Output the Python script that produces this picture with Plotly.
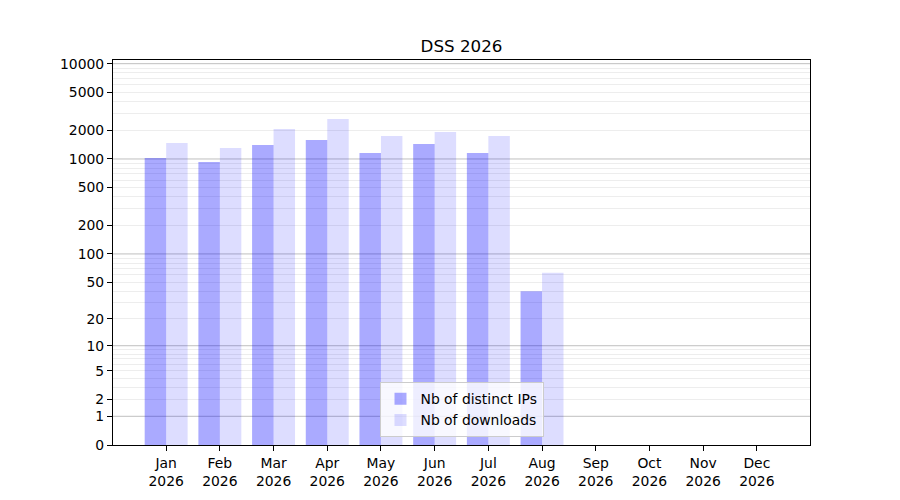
import numpy as np
import plotly.graph_objects as go

months = ["Jan", "Feb", "Mar", "Apr", "May", "Jun", "Jul", "Aug", "Sep", "Oct", "Nov", "Dec"]
year = "2026"
distinct_ips = [1025, 930, 1400, 1580, 1155, 1435, 1155, 40, 0, 0, 0, 0]
downloads = [1470, 1305, 2065, 2630, 1745, 1920, 1745, 63, 0, 0, 0, 0]

tick_labels = [0, 1, 2, 5, 10, 20, 50, 100, 200, 500, 1000, 2000, 5000, 10000]
major_grid = [1, 10, 100, 1000, 10000]
minor_grid = [m * d for d in [1, 10, 100, 1000] for m in range(2, 10)]


# y axis is log10(1 + value), same as the original function scale
def fwd(v):
    return np.log10(1 + np.asarray(v, dtype=float))


x_labels = [m + "<br>" + year for m in months]

fig = go.Figure()
fig.add_trace(go.Bar(x=x_labels, y=fwd(distinct_ips), name="Nb of distinct IPs",
                     marker=dict(color="rgba(0,0,255,0.333)", line=dict(width=0))))
fig.add_trace(go.Bar(x=x_labels, y=fwd(downloads), name="Nb of downloads",
                     marker=dict(color="rgba(0,0,255,0.135)", line=dict(width=0))))

# darker grid lines at the decades
for g in major_grid:
    fig.add_shape(type="line", xref="paper", yref="y", x0=0, x1=1,
                  y0=float(fwd(g)), y1=float(fwd(g)),
                  line=dict(color="rgba(0,0,0,0.25)", width=1), layer="below")

fig.update_layout(
    width=900, height=500,
    margin=dict(l=105, r=98, t=52, b=63),
    paper_bgcolor="white", plot_bgcolor="white",
    font=dict(family="DejaVu Sans", size=13.9, color="black"),
    title=dict(text="DSS " + year, xref="paper", x=0.5, xanchor="center",
               y=0.912, yanchor="bottom", font=dict(size=16.7, color="black")),
    barmode="group", bargap=0.2, bargroupgap=0,
    showlegend=True,
    legend=dict(x=0.5, xanchor="center", y=0.02, yanchor="bottom",
                bgcolor="rgba(255,255,255,0.8)", bordercolor="#cccccc", borderwidth=1,
                font=dict(size=13.9), itemsizing="constant"),
)
fig.update_xaxes(
    range=[-0.99, 11.99], showgrid=False, showline=True, linecolor="black", linewidth=1.1,
    mirror=True, ticks="outside", ticklen=5, tickwidth=1.1, tickcolor="black",
)
fig.update_yaxes(
    range=[0, 4.0386], showgrid=False, zeroline=False, showline=True, linecolor="black",
    linewidth=1.1, mirror=True, ticks="outside", ticklen=5, tickwidth=1.1, tickcolor="black",
    tickmode="array", tickvals=fwd(tick_labels), ticktext=[str(t) for t in tick_labels],
    minor=dict(tickmode="array", tickvals=fwd(minor_grid), showgrid=True,
               gridcolor="rgba(0,0,0,0.07)", gridwidth=1, ticks=""),
)

fig.write_html("out.html")
